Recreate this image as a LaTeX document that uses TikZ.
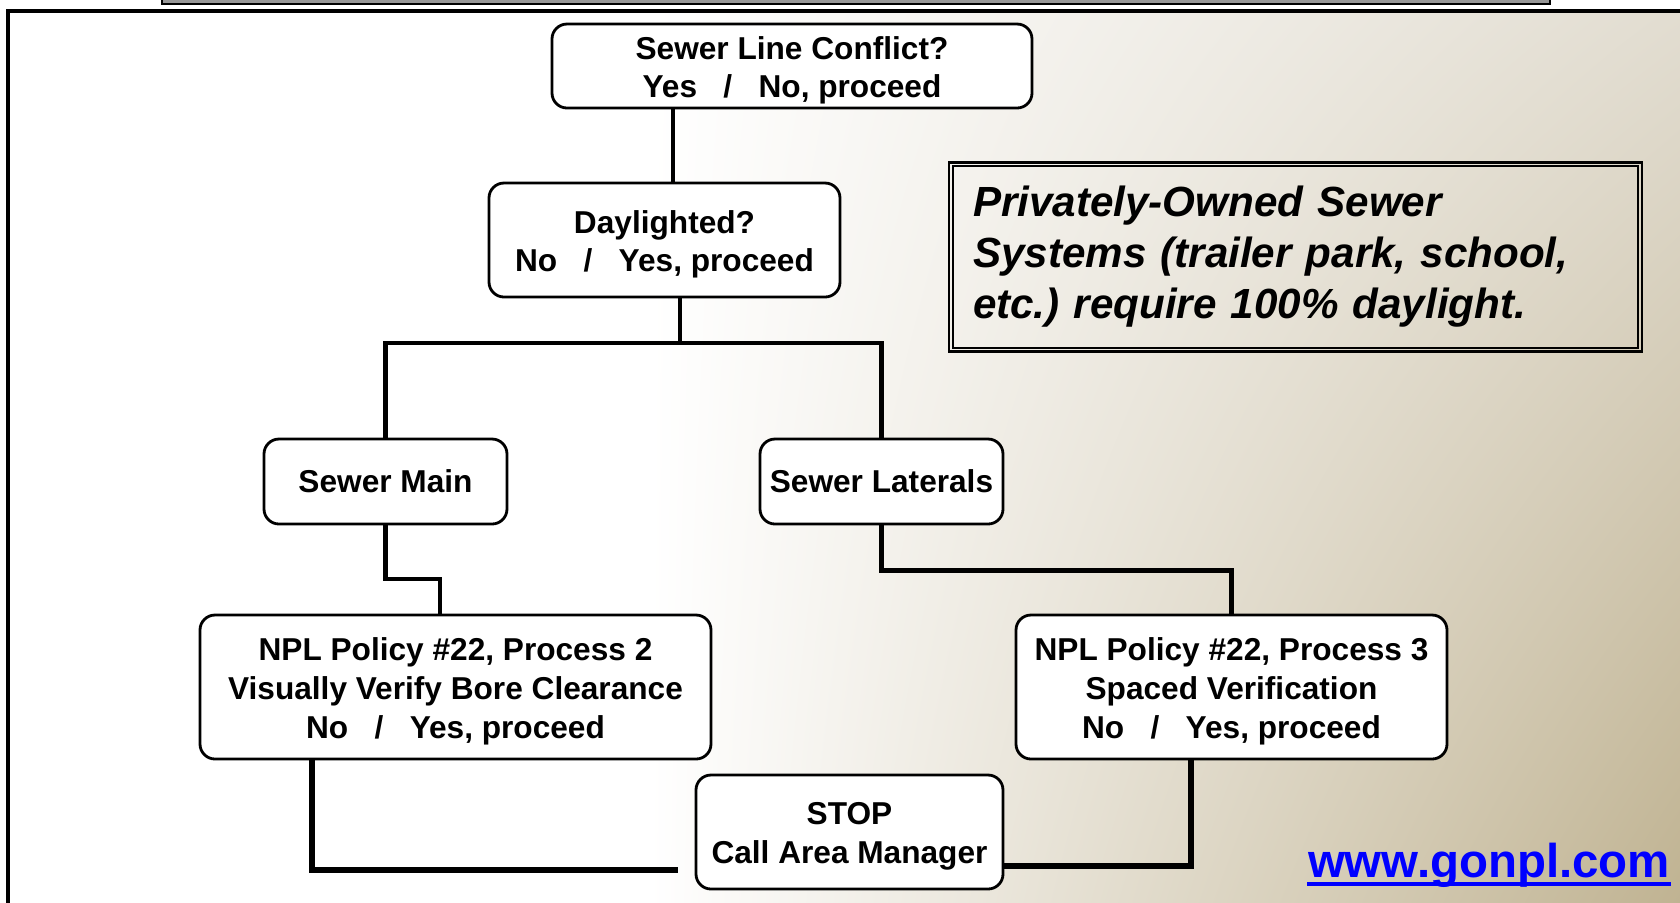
\documentclass[tikz,border=0pt]{standalone}
\usepackage{fontspec}
\setmainfont{Liberation Sans}
\usepackage{tikz}
\usetikzlibrary{positioning, calc, shadings}
\definecolor{bgtop}{RGB}{226, 221, 209}
\definecolor{bgbot}{RGB}{192, 179, 146}
\definecolor{stripgray}{RGB}{150, 150, 150}
\definecolor{urlblue}{RGB}{0, 0, 255}
\newcommand{\firstline}{\rule{0pt}{8.9pt}}

\begin{document}
\begin{tikzpicture}[
    box/.style={draw=black, line width=0.8pt, rounded corners=0.15cm, fill=white, align=center, inner sep=0pt, font=\fontsize{9}{11}\selectfont\bfseries},
    link/.style={line width=1.4pt, black},
    stoplink/.style={line width=1.9pt, black},
    note/.style={draw=black, line width=0.7pt, align=left, text width=6.45cm, inner sep=0.24cm, minimum height=1.86cm, font=\fontsize{12}{14.5}\selectfont\bfseries\itshape}
]
\useasboundingbox (0,0) rectangle (16.8,-9.02);

% Background
\fill[white] (0,0) rectangle (16.8,-9.02);
\shade[upper left=white, lower left=white, upper right=bgtop, lower right=bgbot] (6.5,-0.11) rectangle (16.8,-9.02);
\fill[stripgray, draw=black, line width=0.7pt] (1.62,0.1) rectangle (15.50,-0.04);
\draw[black, line width=0.9pt] (17,-0.11) -- (0.08,-0.11) -- (0.08,-9.2);

% Questions
\node[box, minimum width=4.80cm, minimum height=0.84cm] (conflict) at (7.92,-0.66) {\firstline Sewer Line Conflict?\\Yes\ \ \ /\ \ \ No, proceed};
\node[box, minimum width=3.51cm, minimum height=1.14cm] (daylight) at (6.645,-2.40) {\firstline Daylighted?\\No\ \ \ /\ \ \ Yes, proceed};

% Sewer types
\node[box, minimum width=2.43cm, minimum height=0.85cm] (main) at (3.855,-4.815) {Sewer Main};
\node[box, minimum width=2.43cm, minimum height=0.85cm] (laterals) at (8.815,-4.815) {Sewer Laterals};

% Policies
\node[box, minimum width=5.11cm, minimum height=1.44cm] (proc2) at (4.555,-6.87) {\firstline NPL Policy \#22, Process 2\\Visually Verify Bore Clearance\\No\ \ \ /\ \ \ Yes, proceed};
\node[box, minimum width=4.31cm, minimum height=1.44cm] (proc3) at (12.315,-6.87) {\firstline NPL Policy \#22, Process 3\\Spaced Verification\\No\ \ \ /\ \ \ Yes, proceed};
\node[box, minimum width=3.07cm, minimum height=1.14cm] (stop) at (8.495,-8.32) {\firstline STOP\\Call Area Manager};

% Note
\node[note] (private) at (12.955,-2.57) {Privately-Owned Sewer\\Systems (trailer park, school,\\etc.)\ require 100\% daylight.};
\draw[black, line width=0.7pt] ([shift={(0.05,-0.05)}]private.north west) rectangle ([shift={(-0.05,0.05)}]private.south east);

\node[text=urlblue, inner sep=0pt, font=\fontsize{13.5}{16}\selectfont\bfseries] (url) at (14.89,-8.65) {www.gonpl.com};
\draw[urlblue, line width=1.2pt] ([yshift=-0.07cm]url.base west) -- ([yshift=-0.07cm]url.base east);

% Connectors
\coordinate (split) at (6.80,-3.43);
\coordinate (mainbend) at (4.40,-5.79);
\draw[link] ([xshift=0.085cm]daylight.north) -- ([xshift=0.085cm]daylight.north |- conflict.south);
\draw[link] (daylight.south -| split) -- (split);
\draw[link] (split) -| (main.north);
\draw[link] (split) -| (laterals.north);
\draw[link] (main.south) |- (mainbend) -- (mainbend |- proc2.north);
\draw[link] (laterals.south) -- ++(0,-0.45) -| (proc3.north);
\draw[stoplink] ([xshift=-1.435cm]proc2.south) |- ([shift={(-0.17,-0.38)}]stop.west);
\draw[stoplink] ([xshift=-0.405cm]proc3.south) |- ([yshift=-0.34cm]stop.east);

\end{tikzpicture}
\end{document}
